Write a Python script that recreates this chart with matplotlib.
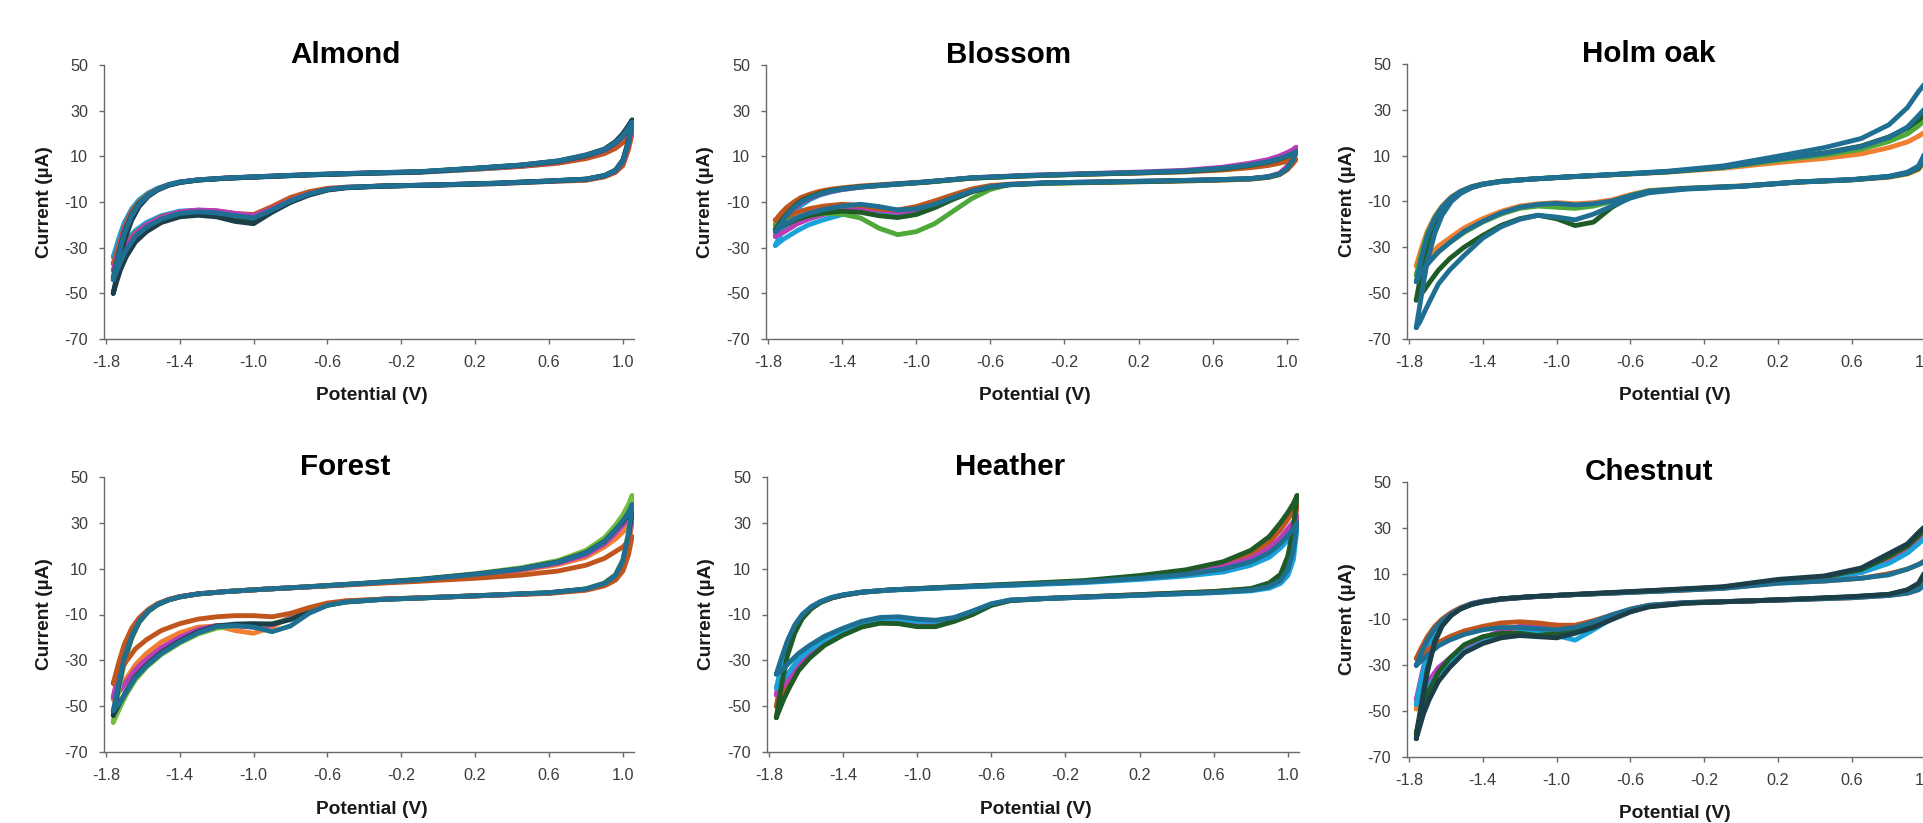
import matplotlib
matplotlib.use('Agg')
import matplotlib.pyplot as plt
from matplotlib import font_manager

plt.rcParams['axes.unicode_minus'] = False

# the reference text is condensed: take a narrow face (with a bold weight) when one is installed
narrow = [f.name for f in font_manager.fontManager.ttflist
          if f.name in ('Liberation Sans Narrow', 'Archivo Narrow') and f.weight >= 700]
if narrow:
    plt.rcParams['font.family'] = [sorted(narrow)[-1], 'Liberation Sans', 'DejaVu Sans']
else:
    plt.rcParams['font.family'] = ['Liberation Sans', 'DejaVu Sans']

# potential grid of one cycle: forward sweep to 1.05 V, then back to -1.76 V
E_LOOP = [-1.76, -1.73, -1.70, -1.66, -1.62, -1.57, -1.52, -1.46, -1.40, -1.30, -1.15, -0.95,
          -0.70, -0.40, -0.10, 0.20, 0.45, 0.65, 0.80, 0.90, 0.96, 1.00, 1.03, 1.05,
          1.03, 1.00, 0.96, 0.90, 0.80, 0.60, 0.30, 0.00, -0.30, -0.50, -0.60, -0.70, -0.80,
          -0.90, -1.00, -1.10, -1.20, -1.30, -1.40, -1.50, -1.58, -1.64, -1.69, -1.72, -1.74, -1.76]

YTICKS = [-70, -50, -30, -10, 10, 30, 50]
XTICKS = [-1.8, -1.4, -1.0, -0.6, -0.2, 0.2, 0.6, 1.0]
XTICK_LABELS = ['-1.8', '-1.4', '-1.0', '-0.6', '-0.2', '0.2', '0.6', '1.0']

# currents (uA), same order as E_LOOP
almond_lblue = [-34, -26, -19, -13, -9, -6, -4, -2.3, -1.2, -0.3, 0.4, 1.0, 1.8, 2.5, 3.0, 4.3,
                5.6, 7.2, 9.5, 12.0, 14.8, 17.5, 20.5, 22.5,
                14, 7, 3.5, 1.4, -0.2, -1.0, -2.0, -2.6, -3.0, -3.6, -4.4, -6.2, -9.0, -12.8, -16.0, -15.2,
                -14.0, -13.6, -14.0, -16.0, -19.0, -22.5, -27.0, -30.0, -32.0, -34.0]
almond_orange = [-37, -29, -21, -14, -10, -6.5, -4.3, -2.5, -1.3, -0.3, 0.5, 1.1, 1.9, 2.6, 3.1, 4.4,
                 5.6, 7.0, 9.0, 11.2, 13.5, 16.0, 18.5, 20.0,
                 13, 6, 3, 1.0, -0.5, -1.0, -2.0, -2.6, -3.0, -3.5, -4.0, -5.5, -8.0, -12.0, -15.5, -15.0,
                 -14.0, -13.8, -14.5, -16.5, -20.0, -23.5, -28.5, -32.0, -34.5, -37.0]
almond_magenta = [-40, -31, -22, -15, -10.5, -7, -4.5, -2.5, -1.3, -0.3, 0.5, 1.2, 2.0, 2.7, 3.2, 4.6,
                  6.0, 7.6, 10.0, 12.5, 15.5, 18.5, 21.0, 23.0,
                  15, 7.5, 3.5, 1.4, -0.1, -0.9, -1.9, -2.5, -3.0, -3.6, -4.5, -6.4, -9.3, -13.0, -16.0, -15.0,
                  -13.8, -13.5, -14.3, -16.8, -20.0, -24.0, -29.5, -34.0, -37.0, -40.0]
almond_dgreen = [-43, -32, -23, -15.5, -10.5, -7, -4.5, -2.6, -1.4, -0.4, 0.4, 1.1, 1.9, 2.6, 3.2, 4.7,
                 6.1, 7.8, 10.2, 12.8, 15.8, 19.0, 22.0, 24.5,
                 16, 8, 3.8, 1.5, 0.0, -0.8, -1.8, -2.5, -3.0, -3.7, -4.6, -6.7, -9.8, -14.0, -18.0, -17.0,
                 -15.5, -15.0, -15.7, -18.0, -22.0, -26.0, -32.0, -36.5, -40.0, -43.0]
almond_navy = [-50, -38, -27, -18, -12, -7.5, -4.8, -2.7, -1.5, -0.4, 0.4, 1.1, 1.9, 2.6, 3.2, 4.8,
               6.2, 8.0, 10.6, 13.2, 16.5, 20.0, 23.5, 26.0,
               17, 8.5, 4, 1.6, 0.0, -0.8, -1.8, -2.5, -3.1, -3.8, -4.8, -7.0, -10.2, -14.5, -19.5, -18.5,
               -16.5, -15.8, -16.5, -19.0, -23.0, -27.5, -34.0, -39.5, -44.5, -50.0]
almond_teal = [-44, -33, -24, -16, -11, -7, -4.5, -2.5, -1.3, -0.3, 0.5, 1.2, 2.0, 2.7, 3.3, 4.8,
               6.2, 8.0, 10.5, 13.0, 16.0, 19.0, 22.5, 25.0,
               16, 8, 3.8, 1.6, 0.0, -0.8, -1.8, -2.5, -3.0, -3.6, -4.5, -6.5, -9.5, -13.5, -17.0, -16.0,
               -14.8, -14.3, -15.0, -17.5, -21.0, -25.0, -31.0, -36.0, -40.0, -44.0]

blossom_lblue = [-29, -24, -19.5, -15, -11.5, -8.8, -7, -5.6, -4.6, -3.5, -2.5, -1.3, 0.5, 1.5, 2.2, 2.8,
                 3.5, 4.6, 6.0, 7.4, 8.8, 10.0, 11.0, 12.0,
                 8, 4.5, 2.2, 1.0, 0.2, -0.3, -0.8, -1.2, -1.6, -2.4, -3.3, -5.2, -8.0, -11.2, -13.8, -14.8,
                 -14.0, -14.0, -15.5, -17.8, -20.0, -22.5, -25.0, -26.5, -27.8, -29.0]
blossom_orange = [-18, -15, -12.5, -10, -8, -6.5, -5.3, -4.4, -3.8, -3.0, -2.2, -1.2, 0.5, 1.5, 2.2, 2.7,
                  3.2, 4.0, 5.0, 6.0, 7.0, 7.8, 8.3, 8.6,
                  6.5, 4.0, 2.0, 0.8, 0.0, -0.5, -1.0, -1.3, -1.7, -2.2, -2.8, -4.3, -6.8, -9.5, -12.0, -13.5,
                  -13.0, -11.5, -11.0, -11.8, -13.0, -14.5, -16.0, -16.8, -17.4, -18.0]
blossom_magenta = [-25, -21, -17, -13, -10.5, -8.3, -6.7, -5.4, -4.5, -3.5, -2.5, -1.3, 0.6, 1.7, 2.4, 3.1,
                   3.9, 5.2, 7.0, 8.6, 10.2, 11.6, 12.8, 14.0,
                   10, 5.5, 2.6, 1.1, 0.2, -0.3, -0.8, -1.2, -1.6, -2.3, -3.2, -5.0, -7.8, -11.0, -13.5, -14.5,
                   -13.5, -13.0, -13.8, -15.5, -17.5, -19.5, -22.0, -23.5, -24.3, -25.0]
blossom_green = [-20, -17, -14, -11, -9, -7.3, -6, -4.9, -4.2, -3.4, -2.5, -1.4, 0.4, 1.4, 2.1, 2.7,
                 3.3, 4.4, 5.8, 7.2, 8.6, 9.8, 10.8, 11.5,
                 7.5, 4.2, 2.0, 0.8, 0.0, -0.5, -1.0, -1.4, -1.9, -2.4, -4.5, -8.5, -14.0, -19.5, -23.0, -24.3,
                 -21.5, -17.0, -15.3, -15.0, -16.0, -17.0, -18.2, -18.9, -19.5, -20.0]
blossom_dgreen = [-22, -18.5, -15.5, -12, -9.5, -7.6, -6.2, -5.0, -4.2, -3.3, -2.4, -1.3, 0.5, 1.5, 2.2, 2.8,
                  3.4, 4.5, 6.0, 7.4, 8.8, 10.0, 11.0, 12.0,
                  8, 4.5, 2.2, 1.0, 0.2, -0.3, -0.9, -1.3, -1.7, -2.5, -3.5, -5.6, -8.8, -12.5, -15.5, -16.8,
                  -16.0, -14.5, -14.0, -14.8, -16.0, -17.5, -19.5, -20.5, -21.3, -22.0]
blossom_teal = [-23, -19.5, -16, -12.5, -10, -8, -6.5, -5.2, -4.3, -3.4, -2.4, -1.2, 0.6, 1.6, 2.3, 2.9,
                3.6, 4.8, 6.2, 7.6, 9.0, 10.2, 11.2, 12.0,
                8.0, 4.5, 2.2, 1.0, 0.2, -0.3, -0.8, -1.2, -1.6, -2.4, -3.3, -5.2, -8.0, -11.0, -13.0, -13.5,
                -12.0, -11.0, -11.8, -13.3, -15.0, -16.8, -19.0, -20.5, -21.7, -23.0]

holm_orange = [-38, -30, -23, -16.5, -12, -8, -5.5, -3.5, -2.3, -1.2, -0.3, 0.6, 1.6, 2.8, 4.5, 7.0,
               8.8, 10.8, 13.5, 16.0, 18.5, 20.5, 22.5, 24.0,
               17, 8, 4, 2, 0.6, -0.6, -1.6, -3.2, -4.2, -5.2, -7.0, -9.3, -10.5, -11.0, -10.5, -11.0,
               -12.0, -14.3, -17.5, -21.5, -26.0, -29.5, -33.5, -35.5, -36.8, -38.0]
holm_green = [-42, -32, -24, -17, -12.3, -8.2, -5.6, -3.6, -2.4, -1.2, -0.3, 0.7, 1.7, 2.9, 4.8, 8.0,
              10.2, 12.8, 16.2, 19.5, 23.0, 26.0, 28.5, 30.5,
              19, 9, 4.5, 2.3, 0.8, -0.5, -1.5, -3.3, -4.3, -5.4, -7.3, -10.0, -12.0, -13.0, -12.5, -12.0,
              -13.0, -15.5, -19.0, -23.5, -28.0, -32.0, -36.0, -38.5, -40.3, -42.0]
holm_dgreen = [-53, -40, -29, -20, -14, -9, -6, -3.8, -2.5, -1.2, -0.3, 0.7, 1.7, 3.0, 5.0, 8.6,
               11.2, 14.2, 18.2, 22.0, 25.5, 28.5, 31.0, 33.0,
               21, 9.5, 4.5, 2.3, 0.8, -0.5, -1.6, -3.4, -4.4, -5.8, -8.0, -12.5, -19.0, -20.5, -17.5, -16.0,
               -17.5, -20.4, -24.8, -29.9, -35.0, -40.0, -45.5, -49.0, -51.0, -53.0]
holm_teal2 = [-65, -50, -36, -24, -16, -10, -6.5, -4, -2.6, -1.3, -0.3, 0.7, 1.8, 3.2, 5.5, 9.8,
              13.5, 17.5, 23.5, 31.0, 38.0, 42.0, 45.0, 47.0,
              30, 12, 5.5, 2.8, 1.0, -0.4, -1.5, -3.4, -4.6, -6.2, -8.5, -12.0, -15.5, -18.0, -16.8, -16.0,
              -17.8, -21.0, -26.0, -33.5, -40.0, -46.0, -54.0, -59.0, -62.5, -65.0]
holm_teal = [-45, -34, -25, -17.5, -12.5, -8.3, -5.6, -3.6, -2.4, -1.2, -0.3, 0.7, 1.7, 3.0, 5.0, 8.5,
             11.0, 14.0, 18.0, 22.5, 27.5, 31.0, 34.0, 36.0,
             22, 10, 5, 2.5, 0.9, -0.5, -1.5, -3.3, -4.3, -5.5, -7.5, -9.8, -11.0, -11.5, -10.8, -11.3,
             -12.5, -15.0, -18.7, -23.0, -28.0, -32.0, -36.5, -39.5, -42.0, -45.0]

forest_orange = [-40, -31, -23, -16, -11.5, -7.8, -5.3, -3.4, -2.2, -1.0, 0.0, 1.0, 2.0, 3.3, 4.5, 5.8,
                 7.2, 9.0, 11.5, 14.5, 17.5, 19.5, 22.0, 24.0,
                 16, 9, 5, 2.5, 0.6, -0.8, -1.6, -2.4, -3.3, -4.0, -5.0, -7.0, -9.5, -11.0, -10.5, -10.5,
                 -11.0, -12.0, -14.0, -17.0, -21.0, -25.0, -30.5, -34.5, -37.5, -40.0]
forest_lorange = [-47, -36, -26, -17.5, -12.2, -8, -5.4, -3.5, -2.2, -1.0, 0.0, 1.0, 2.1, 3.5, 5.0, 7.0,
                  9.2, 11.8, 15.0, 19.5, 23.0, 26.0, 28.5, 30.5,
                  20, 11, 6, 3, 0.8, -0.7, -1.6, -2.5, -3.3, -4.2, -5.4, -7.8, -11.0, -15.5, -18.2, -17.0,
                  -15.0, -15.5, -18.0, -22.0, -27.0, -32.0, -38.0, -42.0, -44.5, -47.0]
forest_green = [-57, -43, -31, -20.5, -13.5, -8.7, -5.8, -3.7, -2.4, -1.1, 0.0, 1.0, 2.2, 3.7, 5.4, 7.8,
                10.4, 13.6, 18.0, 23.5, 29.0, 33.5, 38.0, 42.0,
                26, 14, 7.5, 3.8, 1.2, -0.5, -1.5, -2.5, -3.4, -4.6, -6.0, -8.8, -12.0, -14.0, -14.5, -15.0,
                -16.0, -18.5, -22.5, -27.5, -33.0, -38.5, -45.0, -50.0, -53.5, -57.0]
forest_magenta = [-46, -35, -25.5, -17.3, -12.1, -8, -5.4, -3.5, -2.3, -1.0, 0.0, 1.0, 2.1, 3.5, 5.1, 7.3,
                  9.6, 12.4, 16.0, 20.8, 25.5, 29.0, 31.5, 33.0,
                  22, 12, 6.5, 3.3, 1.0, -0.6, -1.6, -2.5, -3.3, -4.4, -5.7, -8.3, -11.5, -14.5, -15.5, -15.0,
                  -14.8, -16.5, -20.0, -24.5, -29.5, -34.0, -39.5, -43.0, -44.5, -46.0]
forest_navy = [-54, -41, -29.5, -19.8, -13.2, -8.5, -5.7, -3.6, -2.3, -1.0, 0.0, 1.0, 2.1, 3.6, 5.3, 7.6,
               10.0, 13.0, 17.0, 22.0, 27.0, 30.5, 33.5, 35.5,
               24, 13, 7, 3.5, 1.1, -0.5, -1.5, -2.5, -3.4, -4.5, -5.9, -8.6, -12.2, -14.2, -14.0, -14.2,
               -15.0, -17.5, -21.5, -26.5, -32.0, -37.0, -43.5, -48.0, -51.0, -54.0]
forest_teal = [-52, -40, -29, -19.5, -13, -8.4, -5.6, -3.6, -2.3, -1.0, 0.0, 1.0, 2.1, 3.6, 5.2, 7.5,
               9.9, 12.8, 16.8, 21.8, 27.0, 31.0, 34.5, 38.0,
               25, 13.5, 7, 3.5, 1.1, -0.5, -1.5, -2.5, -3.4, -4.5, -6.0, -9.5, -15.0, -17.5, -15.5, -14.8,
               -15.3, -18.0, -22.0, -27.0, -32.5, -37.5, -44.0, -48.0, -50.0, -52.0]

heather_lblue = [-42, -32, -23.5, -15.5, -10.5, -6.8, -4.4, -2.6, -1.5, -0.3, 0.6, 1.3, 2.1, 3.0, 3.9, 5.3,
                 6.8, 8.5, 11.5, 15.0, 19.0, 22.5, 25.5, 28.0,
                 14, 7, 3.5, 1.5, 0.3, -0.5, -1.3, -2.2, -3.0, -3.8, -5.5, -8.5, -11.5, -13.0, -13.0, -12.0,
                 -12.0, -13.8, -17.0, -21.0, -25.5, -29.5, -35.0, -38.0, -40.0, -42.0]
heather_orange = [-50, -37, -26, -17, -11.3, -7.2, -4.6, -2.7, -1.6, -0.3, 0.7, 1.5, 2.4, 3.4, 4.5, 6.5,
                  8.7, 11.8, 16.0, 21.5, 27.0, 31.5, 35.0, 38.0,
                  25, 14, 7, 3.5, 1.2, 0.0, -1.0, -2.0, -2.9, -3.8, -5.8, -9.5, -12.0, -13.3, -13.5, -12.3,
                  -12.5, -14.5, -18.0, -22.5, -27.5, -32.5, -39.0, -43.5, -47.0, -50.0]
heather_magenta = [-45, -34, -24.5, -16.2, -10.9, -7, -4.5, -2.7, -1.6, -0.3, 0.7, 1.4, 2.3, 3.2, 4.2, 6.0,
                   8.0, 10.8, 14.5, 19.0, 23.5, 27.5, 30.5, 33.0,
                   20, 11, 5.5, 2.5, 0.8, -0.3, -1.2, -2.1, -3.0, -3.8, -5.8, -9.2, -12.0, -13.5, -13.5, -12.5,
                   -12.5, -14.5, -17.8, -22.0, -27.0, -31.5, -37.5, -41.0, -43.0, -45.0]
heather_dgreen = [-55, -40, -28, -18, -11.8, -7.4, -4.7, -2.8, -1.6, -0.3, 0.7, 1.5, 2.5, 3.6, 4.8, 7.0,
                  9.5, 13.0, 18.0, 24.0, 30.0, 34.5, 38.5, 42.0,
                  28, 15.5, 7.5, 3.8, 1.3, 0.0, -1.0, -2.0, -3.0, -4.0, -6.0, -10.0, -13.0, -15.3, -15.3, -14.0,
                  -13.8, -15.5, -19.0, -23.5, -29.0, -34.5, -42.0, -47.0, -51.0, -55.0]
heather_teal = [-36, -28.5, -21.5, -14.5, -10, -6.5, -4.3, -2.5, -1.4, -0.2, 0.7, 1.4, 2.3, 3.2, 4.2, 5.8,
                7.5, 9.8, 13.0, 17.0, 21.0, 24.5, 27.5, 30.0,
                18, 9.5, 4.8, 2.2, 0.6, -0.4, -1.3, -2.2, -3.0, -3.7, -5.3, -8.5, -11.3, -12.5, -12.0, -11.0,
                -11.3, -13.0, -16.0, -19.5, -23.5, -27.0, -31.0, -33.5, -35.0, -36.0]

chest_orange = [-27, -22, -17.5, -13, -9.8, -7, -5, -3.3, -2.3, -1.2, -0.2, 0.7, 1.5, 2.5, 3.6, 6.0,
                6.8, 8.0, 10.0, 12.0, 14.0, 16.0, 18.0, 19.5,
                12, 6, 3, 1.5, 0.5, -0.5, -1.3, -2.0, -2.6, -3.8, -5.5, -8.0, -10.5, -12.5, -12.5, -11.5,
                -11.0, -11.5, -13.0, -15.0, -17.5, -20.0, -23.0, -24.5, -25.8, -27.0]
chest_teal = [-30, -24, -19, -14, -10.5, -7.5, -5.3, -3.5, -2.4, -1.2, -0.2, 0.7, 1.5, 2.5, 3.6, 5.8,
              6.8, 8.0, 9.5, 12.0, 14.0, 15.5, 17.0, 18.0,
              11, 5.5, 3, 1.5, 0.5, -0.5, -1.3, -2.0, -2.6, -3.8, -5.5, -8.0, -11.0, -13.5, -14.5, -14.0,
              -13.5, -13.5, -14.5, -16.5, -19.0, -21.5, -25.0, -27.0, -28.5, -30.0]
chest_magenta = [-45, -34, -24, -15.5, -10.5, -7, -4.8, -3.0, -2.0, -1.0, -0.1, 0.7, 1.6, 2.7, 3.9, 6.8,
                 8.0, 10.5, 15.0, 19.5, 23.5, 26.5, 29.0, 31.0,
                 20, 10, 5, 2.5, 0.8, -0.2, -1.2, -2.0, -2.7, -4.0, -5.8, -8.5, -11.5, -13.0, -12.5, -12.0,
                 -13.0, -15.0, -18.0, -22.0, -27.0, -31.0, -36.5, -40.0, -42.5, -45.0]
chest_lblue = [-47, -35, -25, -16, -10.8, -7.2, -4.9, -3.0, -2.0, -1.0, -0.1, 0.7, 1.6, 2.7, 3.9, 6.8,
               8.0, 10.5, 14.5, 19.0, 23.0, 26.0, 28.5, 30.5,
               20, 10, 5, 2.5, 0.8, -0.2, -1.2, -2.0, -2.7, -4.1, -6.0, -9.5, -14.5, -19.0, -17.0, -15.5,
               -15.5, -17.0, -20.0, -24.0, -29.0, -33.5, -39.0, -42.5, -45.0, -47.0]
chest_lorange = [-49, -37, -26, -16.5, -11, -7.3, -5, -3.1, -2.1, -1.0, -0.1, 0.7, 1.6, 2.8, 4.0, 7.0,
                 8.3, 11.0, 16.0, 21.0, 25.5, 28.5, 31.0, 33.0,
                 21, 10.5, 5.2, 2.6, 0.8, -0.2, -1.2, -2.0, -2.8, -4.2, -6.0, -9.0, -12.5, -14.5, -14.0, -13.5,
                 -14.5, -16.5, -19.5, -23.5, -28.5, -33.0, -39.0, -43.0, -46.0, -49.0]
chest_dgreen = [-60, -46, -32, -19.5, -12.5, -8, -5.3, -3.3, -2.2, -1.0, -0.1, 0.7, 1.7, 2.9, 4.1, 7.2,
                8.6, 11.8, 17.5, 22.0, 26.5, 29.5, 32.0, 34.0,
                22, 11, 5.5, 2.8, 0.9, -0.1, -1.1, -2.0, -2.8, -4.3, -6.3, -9.5, -13.0, -15.0, -16.0, -17.0,
                -16.0, -16.0, -17.5, -21.0, -27.0, -33.0, -41.0, -47.0, -53.0, -60.0]
chest_navy = [-62, -47, -33, -20, -12.8, -8.2, -5.4, -3.4, -2.2, -1.0, -0.1, 0.8, 1.8, 3.0, 4.3, 7.5,
              9.0, 12.5, 18.8, 23.0, 28.0, 31.0, 33.5, 35.5,
              23, 11.5, 5.8, 3.0, 1.0, 0.0, -1.1, -2.0, -2.9, -4.5, -6.7, -10.0, -13.5, -16.0, -18.0, -17.5,
              -17.0, -18.0, -20.5, -24.5, -31.0, -37.0, -45.0, -51.0, -56.5, -62.0]

ORANGE = '#c0561e'
LORANGE = '#f07f32'
MAGENTA = '#b93db9'
LBLUE = '#1aa3da'
GREEN = '#4fa83a'
LGREEN = '#74bd3f'
DGREEN = '#1e5b26'
TEAL = '#1f6f92'
NAVY = '#1c3e49'

W, H = 1924, 823

# name, (left, top, width, height) in pixels, curves in drawing order
panels = [
    ('Almond', (104, 65, 530, 274),
     [(almond_lblue, LBLUE), (almond_orange, ORANGE), (almond_magenta, MAGENTA),
      (almond_dgreen, DGREEN), (almond_navy, NAVY), (almond_teal, TEAL)]),
    ('Blossom', (766, 65, 532, 274),
     [(blossom_lblue, LBLUE), (blossom_magenta, MAGENTA), (blossom_green, GREEN),
      (blossom_orange, ORANGE), (blossom_dgreen, DGREEN), (blossom_teal, TEAL)]),
    ('Holm oak', (1407, 64, 530, 275),
     [(holm_orange, LORANGE), (holm_green, GREEN), (holm_dgreen, DGREEN),
      (holm_teal2, TEAL), (holm_teal, TEAL)]),
    ('Forest', (104, 477, 530, 275),
     [(forest_lorange, LORANGE), (forest_magenta, MAGENTA), (forest_green, LGREEN),
      (forest_navy, NAVY), (forest_orange, ORANGE), (forest_teal, TEAL)]),
    ('Heather', (767, 477, 532, 275),
     [(heather_orange, ORANGE), (heather_magenta, MAGENTA), (heather_lblue, LBLUE),
      (heather_dgreen, DGREEN), (heather_teal, TEAL)]),
    ('Chestnut', (1407, 482, 530, 275),
     [(chest_lorange, LORANGE), (chest_magenta, MAGENTA), (chest_lblue, LBLUE),
      (chest_dgreen, DGREEN), (chest_orange, ORANGE), (chest_teal, TEAL), (chest_navy, NAVY)]),
]

fig = plt.figure(figsize=(W / 100, H / 100), dpi=100)
renderer = fig.canvas.get_renderer()


def fit_size(text, weight, target_px):
    # font size that gives the text the width it has in the reference
    probe = fig.text(0, 0, text, fontsize=20, fontweight=weight)
    width = probe.get_window_extent(renderer).width
    probe.remove()
    return round(20 * target_px / width, 1)


TITLE_SIZE = fit_size('Almond', 'bold', 110)
LABEL_SIZE = fit_size('Potential (V)', 'bold', 112)
TICK_SIZE = fit_size('-1.8', 'normal', 28)

for name, (left, top, width, height), curves in panels:
    ax = fig.add_axes([left / W, 1 - (top + height) / H, width / W, height / H])
    for values, color in curves:
        assert len(values) == len(E_LOOP), name
        ax.plot(E_LOOP, values, color=color, lw=3.5,
                solid_joinstyle='round', solid_capstyle='round')
    ax.set_xlim(-1.81, 1.06)
    ax.set_ylim(-70, 50)
    ax.set_xticks(XTICKS)
    ax.set_xticklabels(XTICK_LABELS)
    ax.set_yticks(YTICKS)
    ax.set_yticklabels([str(v) for v in YTICKS])
    for side in ['top', 'right']:
        ax.spines[side].set_visible(False)
    for side in ['left', 'bottom']:
        ax.spines[side].set_color('#6a6a6a')
        ax.spines[side].set_linewidth(1.0)
    ax.tick_params(direction='out', length=3.5, width=1.0, color='#6a6a6a',
                   labelsize=TICK_SIZE, labelcolor='#3c3c3c')
    ax.tick_params(axis='y', pad=8)
    ax.tick_params(axis='x', pad=8)
    ax.text(0.456, 1 + 2 / height, name, transform=ax.transAxes, ha='center', va='baseline',
            fontsize=TITLE_SIZE, fontweight='bold', color='black')
    ax.text(-60 / width, 0.5, 'Current (µA)', transform=ax.transAxes, ha='center', va='center',
            rotation=90, fontsize=LABEL_SIZE, fontweight='bold', color='#1a1a1a')
    ax.text(0.505, -57 / height, 'Potential (V)', transform=ax.transAxes, ha='center', va='center',
            fontsize=LABEL_SIZE, fontweight='bold', color='#1a1a1a')

fig.savefig('out.png', dpi=100)
